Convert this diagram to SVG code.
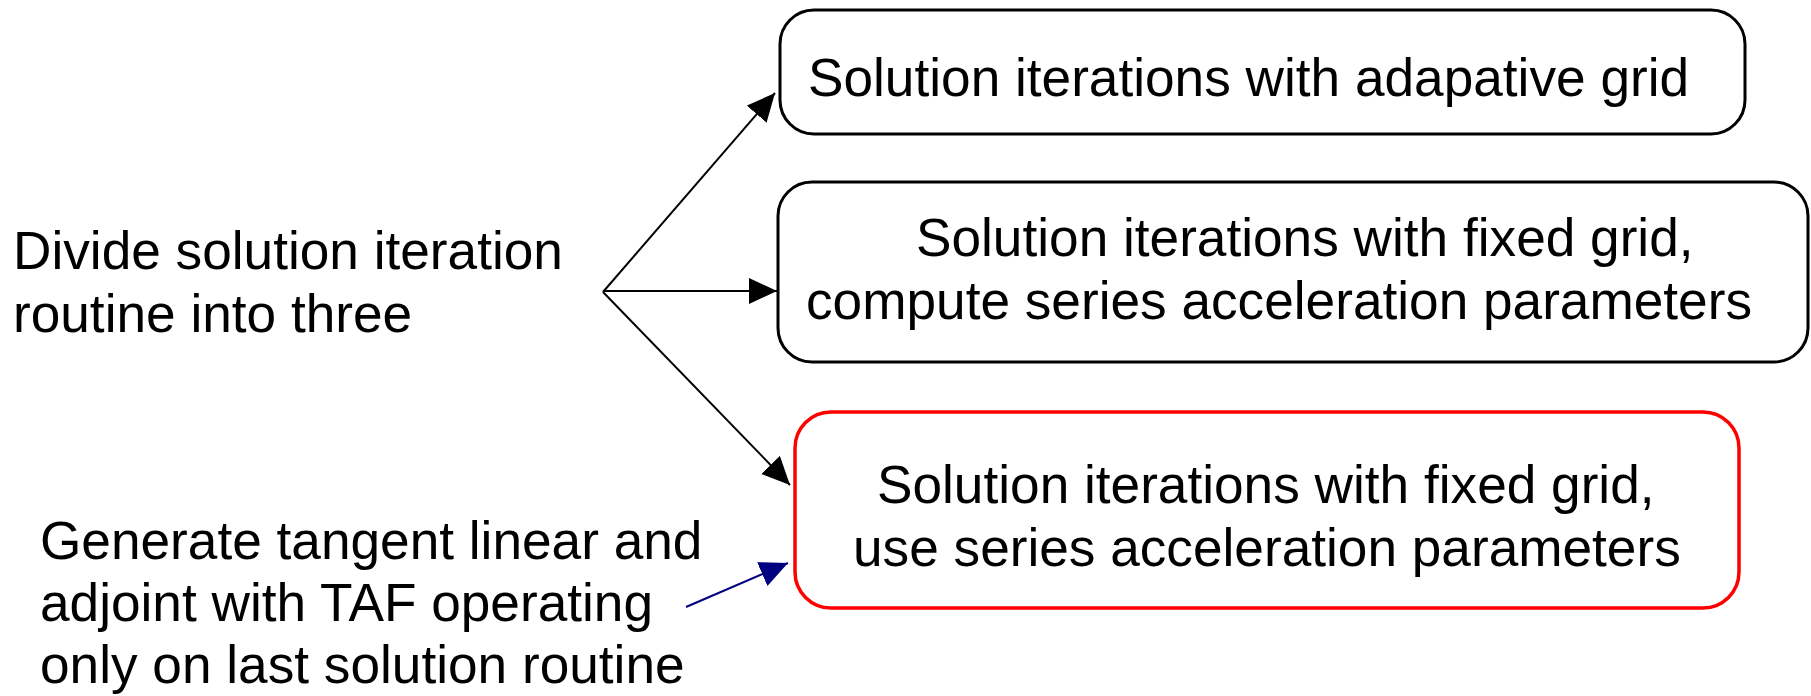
<svg xmlns="http://www.w3.org/2000/svg" width="1811" height="696" viewBox="0 0 1811 696">
<style>
text{font-family:"Liberation Sans",Arial,sans-serif;font-size:53.2px;fill:#000}
.box{fill:#fff;stroke:#000;stroke-width:3}
.red{stroke:#ff0000;stroke-width:3.5}
.con{stroke:#000;stroke-width:2;fill:none}
.blue{stroke:#000080;stroke-width:2;fill:none}
</style>
<defs>
<marker id="ah" markerUnits="userSpaceOnUse" markerWidth="30" markerHeight="28" refX="28" refY="13" orient="auto">
<path d="M0,0 L28,13 L0,26 Z" fill="#000"/>
</marker>
<marker id="ahb" markerUnits="userSpaceOnUse" markerWidth="30" markerHeight="28" refX="28" refY="13" orient="auto">
<path d="M0,0 L28,13 L0,26 Z" fill="#000080"/>
</marker>
</defs>
<g id="connectors">
<line class="con" x1="603" y1="292" x2="775" y2="93" marker-end="url(#ah)"/>
<line class="con" x1="603" y1="291" x2="777" y2="291" marker-end="url(#ah)"/>
<line class="con" x1="603" y1="292" x2="790" y2="485" marker-end="url(#ah)"/>
<line class="blue" x1="686" y1="607" x2="788" y2="563" marker-end="url(#ahb)"/>
</g>
<g id="label-divide">
<text x="13" y="269">Divide solution iteration</text>
<text x="13" y="332">routine into three</text>
</g>
<g id="label-generate">
<text x="40" y="559">Generate tangent linear and</text>
<text x="40" y="621">adjoint with TAF operating</text>
<text x="40" y="683">only on last solution routine</text>
</g>
<g id="box-adaptive">
<rect class="box" x="780" y="10" width="965" height="124" rx="34"/>
<text x="808" y="96">Solution iterations with adapative grid</text>
</g>
<g id="box-compute">
<rect class="box" x="778" y="182" width="1030" height="180" rx="34"/>
<text x="916" y="256">Solution iterations with fixed grid,</text>
<text x="806" y="319">compute series acceleration parameters</text>
</g>
<g id="box-use">
<rect class="box red" x="795" y="412" width="944" height="196" rx="36"/>
<text x="877" y="503">Solution iterations with fixed grid,</text>
<text x="853" y="566">use series acceleration parameters</text>
</g>
</svg>
